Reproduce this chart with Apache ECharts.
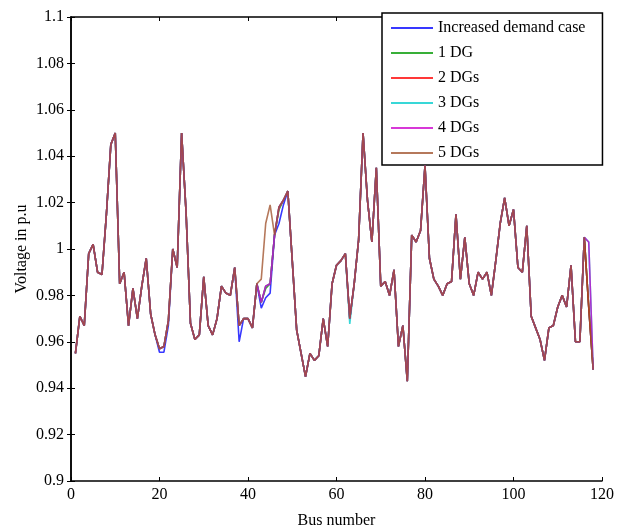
<!DOCTYPE html>
<html>
<head>
<meta charset="utf-8">
<script src="https://cdn.jsdelivr.net/npm/echarts@6/dist/echarts.min.js"></script>
<style>
html,body{margin:0;padding:0;background:#fff;}
#chart{width:629px;height:529px;}
</style>
</head>
<body>
<div id="chart"></div>
<script>
// Tick labels / axis ranges
const xTicks = [0, 20, 40, 60, 80, 100, 120];
const yTicks = [0.9, 0.92, 0.94, 0.96, 0.98, 1.0, 1.02, 1.04, 1.06, 1.08, 1.1];
const seriesNames = ['Increased demand case', '1 DG', '2 DGs', '3 DGs', '4 DGs', '5 DGs'];

// Bus voltages (p.u.), buses 1..118
const increasedDemand = [
 0.955,0.971,0.967,0.998,1.002,0.990,0.989,1.015,1.045,1.050,
 0.985,0.990,0.967,0.983,0.970,0.984,0.996,0.972,0.963,0.9555,
 0.9555,0.967,1.000,0.992,1.050,1.016,0.968,0.961,0.963,0.988,
 0.967,0.963,0.970,0.984,0.981,0.980,0.992,0.960,0.970,0.970,
 0.966,0.985,0.9745,0.979,0.981,1.006,1.011,1.019,1.025,0.995,
 0.965,0.955,0.945,0.955,0.952,0.954,0.970,0.958,0.985,0.993,
 0.995,0.998,0.970,0.985,1.004,1.050,1.021,1.003,1.035,0.984,
 0.986,0.980,0.991,0.958,0.967,0.943,1.006,1.003,1.008,1.036,
 0.996,0.987,0.984,0.980,0.985,0.986,1.015,0.987,1.005,0.985,
 0.980,0.990,0.987,0.990,0.980,0.995,1.011,1.022,1.010,1.017,
 0.992,0.990,1.010,0.971,0.966,0.961,0.952,0.966,0.967,0.975,
 0.980,0.975,0.993,0.960,0.960,1.005,0.975,0.948];
const dg1 = [
 0.955,0.971,0.967,0.998,1.002,0.990,0.989,1.015,1.045,1.050,
 0.985,0.990,0.967,0.983,0.970,0.984,0.996,0.972,0.963,0.957,
 0.958,0.969,1.000,0.992,1.050,1.016,0.968,0.961,0.963,0.988,
 0.967,0.963,0.970,0.984,0.981,0.980,0.992,0.967,0.970,0.970,
 0.966,0.985,0.977,0.983,0.985,1.006,1.017,1.021,1.025,0.995,
 0.965,0.955,0.945,0.955,0.952,0.954,0.970,0.958,0.985,0.993,
 0.995,0.998,0.970,0.985,1.004,1.050,1.021,1.003,1.035,0.984,
 0.986,0.980,0.991,0.958,0.967,0.943,1.006,1.003,1.008,1.036,
 0.996,0.987,0.984,0.980,0.985,0.986,1.015,0.987,1.005,0.985,
 0.980,0.990,0.987,0.990,0.980,0.995,1.011,1.022,1.010,1.017,
 0.992,0.990,1.010,0.971,0.966,0.961,0.952,0.966,0.967,0.975,
 0.980,0.975,0.993,0.960,0.960,1.005,0.975,0.948];
const dg2 = [
 0.955,0.971,0.967,0.998,1.002,0.990,0.989,1.015,1.045,1.050,
 0.985,0.990,0.967,0.983,0.970,0.984,0.996,0.972,0.963,0.957,
 0.958,0.969,1.000,0.992,1.050,1.016,0.968,0.961,0.963,0.988,
 0.967,0.963,0.970,0.984,0.981,0.980,0.992,0.967,0.970,0.970,
 0.966,0.985,0.977,0.984,0.985,1.006,1.018,1.021,1.025,0.995,
 0.965,0.955,0.945,0.955,0.952,0.954,0.970,0.958,0.985,0.993,
 0.995,0.998,0.970,0.985,1.004,1.050,1.021,1.003,1.035,0.984,
 0.986,0.980,0.991,0.958,0.967,0.943,1.006,1.003,1.008,1.036,
 0.996,0.987,0.984,0.980,0.985,0.986,1.015,0.987,1.005,0.985,
 0.980,0.990,0.987,0.990,0.980,0.995,1.011,1.022,1.010,1.017,
 0.992,0.990,1.010,0.971,0.966,0.961,0.952,0.966,0.967,0.975,
 0.980,0.975,0.993,0.960,0.960,1.005,0.975,0.948];
const dg3 = [
 0.955,0.971,0.967,0.998,1.002,0.990,0.989,1.015,1.045,1.050,
 0.985,0.990,0.967,0.983,0.970,0.984,0.996,0.972,0.963,0.957,
 0.958,0.969,1.000,0.992,1.050,1.016,0.968,0.961,0.963,0.988,
 0.967,0.963,0.970,0.984,0.981,0.980,0.992,0.967,0.970,0.970,
 0.966,0.985,0.977,0.984,0.985,1.006,1.018,1.021,1.025,0.995,
 0.965,0.955,0.945,0.955,0.952,0.954,0.970,0.958,0.985,0.993,
 0.995,0.998,0.9677,0.985,1.004,1.050,1.021,1.003,1.035,0.984,
 0.986,0.980,0.991,0.958,0.967,0.943,1.006,1.003,1.008,1.036,
 0.996,0.987,0.984,0.980,0.985,0.986,1.015,0.987,1.005,0.985,
 0.980,0.990,0.987,0.990,0.980,0.995,1.011,1.022,1.010,1.017,
 0.992,0.990,1.010,0.971,0.966,0.961,0.952,0.966,0.967,0.975,
 0.980,0.975,0.993,0.960,0.960,1.005,1.003,0.948];
const dg4 = [
 0.955,0.971,0.967,0.998,1.002,0.990,0.989,1.015,1.045,1.050,
 0.985,0.990,0.967,0.983,0.970,0.984,0.996,0.972,0.963,0.957,
 0.958,0.969,1.000,0.992,1.050,1.016,0.968,0.961,0.963,0.988,
 0.967,0.963,0.970,0.984,0.981,0.980,0.992,0.967,0.970,0.970,
 0.966,0.985,0.977,0.984,0.985,1.006,1.018,1.021,1.025,0.995,
 0.965,0.955,0.945,0.955,0.952,0.954,0.970,0.958,0.985,0.993,
 0.995,0.998,0.970,0.985,1.004,1.050,1.021,1.003,1.035,0.984,
 0.986,0.980,0.991,0.958,0.967,0.943,1.006,1.003,1.008,1.036,
 0.996,0.987,0.984,0.980,0.985,0.986,1.015,0.987,1.005,0.985,
 0.980,0.990,0.987,0.990,0.980,0.995,1.011,1.022,1.010,1.017,
 0.992,0.990,1.010,0.971,0.966,0.961,0.952,0.966,0.967,0.975,
 0.980,0.975,0.993,0.960,0.960,1.005,1.003,0.948];
const dg5 = [
 0.955,0.971,0.967,0.998,1.002,0.990,0.989,1.015,1.045,1.050,
 0.985,0.990,0.967,0.983,0.970,0.984,0.996,0.972,0.963,0.957,
 0.958,0.969,1.000,0.992,1.050,1.016,0.968,0.961,0.963,0.988,
 0.967,0.963,0.970,0.984,0.981,0.980,0.992,0.967,0.970,0.970,
 0.966,0.985,0.987,1.011,1.019,1.006,1.018,1.021,1.025,0.995,
 0.965,0.955,0.945,0.955,0.952,0.954,0.970,0.958,0.985,0.993,
 0.995,0.998,0.970,0.985,1.004,1.050,1.021,1.003,1.035,0.984,
 0.986,0.980,0.991,0.958,0.967,0.943,1.006,1.003,1.008,1.036,
 0.996,0.987,0.984,0.980,0.985,0.986,1.015,0.987,1.005,0.985,
 0.980,0.990,0.987,0.990,0.980,0.995,1.011,1.022,1.010,1.017,
 0.992,0.990,1.010,0.971,0.966,0.961,0.952,0.966,0.967,0.975,
 0.980,0.975,0.993,0.960,0.960,1.005,0.975,0.948];

const allSeries = [increasedDemand, dg1, dg2, dg3, dg4, dg5];
const colors = ['#0000ff', '#009900', '#ff0000', '#00cccc', '#cc00cc', '#a0522d'];

const FONT = 'Liberation Serif';
const chart = echarts.init(document.getElementById('chart'));

function toPairs(arr) { return arr.map((v, i) => [i + 1, v]); }

const axisLineStyle = { show: true, lineStyle: { color: '#000', width: 1.5 } };
const tickStyle = { show: true, inside: true, length: 4, lineStyle: { color: '#000', width: 1 } };

const option = {
  backgroundColor: '#fff',
  animation: false,
  grid: { left: 71, right: 27, top: 17, bottom: 48, containLabel: false, outerBoundsMode: 'none' },
  legend: {
    orient: 'vertical',
    left: 382,
    top: 13,
    padding: [7, 17, 4, 8],
    itemGap: 9,
    itemWidth: 42,
    itemHeight: 16,
    itemTextGap: 4,
    backgroundColor: '#fff',
    borderColor: '#000',
    borderWidth: 1.5,
    borderRadius: 0,
    itemStyle: { opacity: 0, borderWidth: 0 },
    textStyle: { fontFamily: FONT, fontSize: 16, color: '#000' },
    data: seriesNames
  },
  xAxis: [
    {
      type: 'value', min: xTicks[0], max: xTicks[xTicks.length - 1], interval: 20,
      position: 'bottom',
      axisLine: axisLineStyle, axisTick: tickStyle, splitLine: { show: false },
      axisLabel: { fontFamily: FONT, fontSize: 16, color: '#000', margin: 6 },
      name: 'Bus number', nameLocation: 'middle', nameGap: 32,
      nameTextStyle: { fontFamily: FONT, fontSize: 16, color: '#000' }
    },
    {
      type: 'value', min: xTicks[0], max: xTicks[xTicks.length - 1], interval: 20,
      position: 'top',
      axisLine: axisLineStyle, axisTick: tickStyle, splitLine: { show: false },
      axisLabel: { show: false }
    }
  ],
  yAxis: [
    {
      type: 'value', min: yTicks[0], max: yTicks[yTicks.length - 1], interval: 0.02,
      position: 'left',
      axisLine: axisLineStyle, axisTick: tickStyle, splitLine: { show: false },
      axisLabel: {
        fontFamily: FONT, fontSize: 16, color: '#000', margin: 7,
        formatter: v => String(+(+v).toFixed(2))
      },
      name: 'Voltage in p.u', nameLocation: 'middle', nameGap: 41, nameRotate: 90,
      nameMoveOverlap: false,
      nameTextStyle: { fontFamily: FONT, fontSize: 16, color: '#000' }
    },
    {
      type: 'value', min: yTicks[0], max: yTicks[yTicks.length - 1], interval: 0.02,
      position: 'right',
      axisLine: axisLineStyle, axisTick: tickStyle, splitLine: { show: false },
      axisLabel: { show: false }
    }
  ],
  series: allSeries.map((arr, k) => ({
    name: seriesNames[k],
    type: 'line',
    xAxisIndex: 0,
    yAxisIndex: 0,
    data: toPairs(arr),
    symbol: 'none',
    color: colors[k],
    lineStyle: { color: colors[k], width: 1.6, opacity: 0.78 },
    z: 2 + k
  }))
};
chart.setOption(option);
</script>
</body>
</html>
